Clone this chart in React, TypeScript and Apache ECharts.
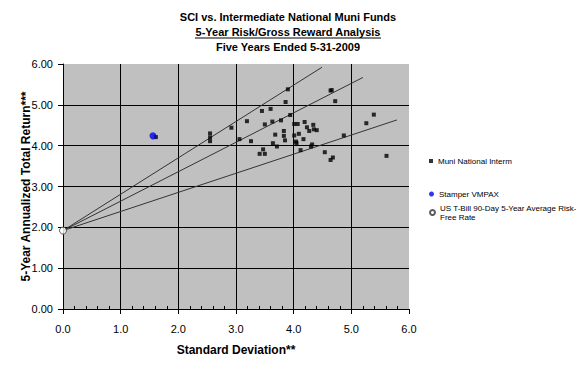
import React, { useEffect, useRef } from "react";
import * as echarts from "echarts";

const titleLines = [
  "SCI vs. Intermediate National Muni Funds",
  "5-Year Risk/Gross Reward Analysis",
  "Five Years Ended 5-31-2009",
];

const muniStdDev = [
  1.61, 2.55, 2.55, 2.55, 2.92, 3.06, 3.19, 3.26, 3.41, 3.47, 3.5, 3.45, 3.5, 3.6, 3.63, 3.64, 3.68,
  3.71, 3.78, 3.83, 3.83, 3.85, 3.86, 3.9, 3.94, 4.01, 4.07, 4.01, 4.09, 4.04, 4.05, 4.12, 4.17,
  4.19, 4.23, 4.27, 4.3, 4.32, 4.34, 4.35, 4.4, 4.54, 4.64, 4.68, 4.64, 4.66, 4.72, 4.87, 5.26,
  5.39, 5.61,
];
const muniReturn = [
  4.21, 4.3, 4.2, 4.11, 4.44, 4.16, 4.6, 4.11, 3.8, 3.91, 3.8, 4.85, 4.52, 4.9, 4.59, 4.06, 4.27,
  3.98, 4.62, 4.36, 4.24, 4.13, 5.07, 5.38, 4.75, 4.53, 4.53, 4.25, 4.29, 4.1, 4.06, 3.89, 4.16,
  4.58, 4.45, 4.36, 3.98, 4.03, 4.51, 4.4, 4.38, 3.84, 3.65, 3.71, 5.35, 5.36, 5.09, 4.25, 4.55,
  4.76, 3.75,
];
const stamperPoint = [1.56, 4.24];
const riskFreePoint = [0, 1.92];
const lineEndStdDev = [4.49, 5.2, 5.79];
const lineEndReturn = [5.92, 5.67, 4.63];

const xTicks = [0, 1, 2, 3, 4, 5, 6];
const yTicks = [0, 1, 2, 3, 4, 5, 6];

const seriesNames = [
  "Muni National Interm",
  "Stamper VMPAX",
  "US T-Bill 90-Day 5-Year Average Risk-Free Rate",
];

const FONT = '"Liberation Sans", Arial, sans-serif';

export default function App() {
  const ref = useRef<HTMLDivElement>(null);
  useEffect(() => {
    document.body.style.margin = "0";
    if (!ref.current) return;
    const chart = echarts.init(ref.current, undefined, { renderer: "svg" });

    const lineSeries = lineEndStdDev.map((sd, i) => ({
      type: "line",
      name: "line" + i,
      data: [riskFreePoint, [sd, lineEndReturn[i]]],
      symbol: "none",
      silent: true,
      lineStyle: { color: "#333", width: 1 },
      z: 2,
    }));

    const option: any = {
      animation: false,
      backgroundColor: "#fff",
      textStyle: { fontFamily: FONT },
      grid: { left: 63, top: 64, width: 346, height: 245, outerBoundsMode: "none", backgroundColor: "#C0C0C0", show: true, borderWidth: 0 },
      graphic: [
        ...titleLines.map((t, i) => ({
          type: "text",
          x: 288,
          y: [17, 32, 47][i],
          style: {
            text: t,
            fontFamily: FONT,
            fontSize: 11,
            fontWeight: "bold",
            fill: "#000",
            align: "center",
            verticalAlign: "middle",
          },
        })),
        {
          type: "line",
          shape: { x1: 195, y1: 38, x2: 381, y2: 38 },
          style: { stroke: "#000", lineWidth: 1 },
        },
      ],
      legend: [
        {
          data: [seriesNames[0]],
          left: 424,
          top: 152,
          orient: "vertical",
          itemWidth: 4,
          itemHeight: 4,
          textStyle: { fontSize: 8, color: "#000", fontFamily: FONT },
          selectedMode: false,
        },
        {
          data: [seriesNames[1]],
          left: 424,
          top: 185,
          orient: "vertical",
          itemWidth: 5,
          itemHeight: 5,
          textStyle: { fontSize: 8, color: "#000", fontFamily: FONT },
          selectedMode: false,
        },
        {
          data: [seriesNames[2]],
          left: 424,
          top: 194,
          orient: "vertical",
          itemWidth: 5,
          itemHeight: 5,
          formatter: () => "US T-Bill 90-Day 5-Year Average Risk-\nFree Rate",
          textStyle: { fontSize: 8, color: "#000", fontFamily: FONT, lineHeight: 9, padding: [9, 0, 0, 0] },
          selectedMode: false,
        },
      ],
      xAxis: [
        {
          type: "value",
          min: xTicks[0],
          max: xTicks[xTicks.length - 1],
          interval: 1,
          name: "Standard Deviation**",
          nameLocation: "middle",
          nameGap: 35,
          nameMoveOverlap: false,
          nameTextStyle: { fontSize: 12, fontWeight: "bold", color: "#000", fontFamily: FONT },
          axisLine: { show: true, lineStyle: { color: "#000", width: 1 } },
          axisTick: { show: true, length: 5, lineStyle: { color: "#000" } },
          axisLabel: { fontSize: 11, color: "#000", margin: 14, formatter: (v: number) => v.toFixed(1) },
          splitLine: { show: true, showMaxLine: false, lineStyle: { color: "#000", width: 1 } },
        },
        {
          type: "value",
          min: xTicks[0],
          max: xTicks[xTicks.length - 1],
          interval: 1,
          position: "bottom",
          axisLine: { show: false },
          axisTick: { show: false, inside: true },
          minorTick: { show: true, splitNumber: 5, length: 3, lineStyle: { color: "#000" } },
          axisLabel: { show: false },
          splitLine: { show: false },
        },
      ],
      yAxis: {
        type: "value",
        min: yTicks[0],
        max: yTicks[yTicks.length - 1],
        interval: 1,
        name: "5-Year Annualized Total Return***",
        nameLocation: "middle",
        nameGap: 31,
        nameMoveOverlap: false,
        nameTextStyle: { fontSize: 12, fontWeight: "bold", color: "#000", fontFamily: FONT },
        axisLine: { show: true, lineStyle: { color: "#000", width: 1 } },
        axisTick: { show: true, length: 5, lineStyle: { color: "#000" } },
        axisLabel: { fontSize: 11, color: "#000", margin: 10, formatter: (v: number) => v.toFixed(2) },
        splitLine: { show: true, showMaxLine: false, lineStyle: { color: "#000", width: 1 } },
      },
      series: [
        ...lineSeries,
        {
          type: "scatter",
          name: seriesNames[0],
          data: muniStdDev.map((x, i) => [x, muniReturn[i]]),
          symbol: "rect",
          symbolSize: 4,
          itemStyle: { color: "#000" },
          z: 3,
        },
        {
          type: "scatter",
          name: seriesNames[1],
          data: [stamperPoint],
          symbol: "circle",
          symbolSize: 7,
          itemStyle: { color: "#0000EE" },
          z: 4,
        },
        {
          type: "scatter",
          name: seriesNames[2],
          data: [riskFreePoint],
          symbol: "circle",
          symbolSize: 7,
          itemStyle: { color: "#fff", borderColor: "#333", borderWidth: 1 },
          z: 5,
        },
      ],
    };
    chart.setOption(option);
    return () => chart.dispose();
  }, []);
  return <div ref={ref} style={{ width: 576, height: 367 }} />;
}
